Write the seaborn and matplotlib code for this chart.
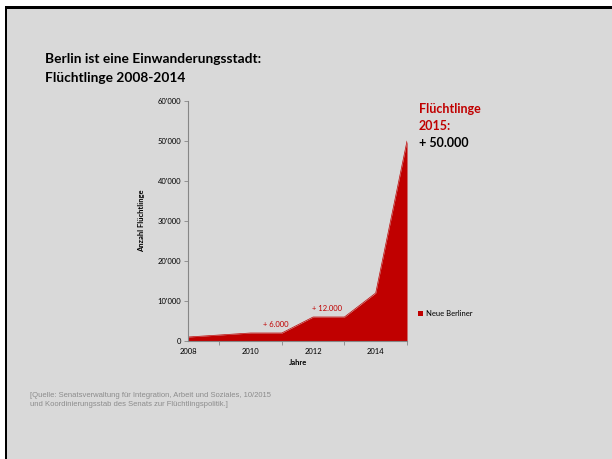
import pandas as pd
import seaborn as sns
import matplotlib.pyplot as plt
from matplotlib.patches import Rectangle
from matplotlib.ticker import FuncFormatter, MultipleLocator

years = [2008, 2009, 2010, 2011, 2012, 2013, 2014, 2015]
refugees = [1000, 1500, 2000, 2000, 6000, 6000, 12000, 50000]
series_name = "Neue Berliner"
notes = [(2010.8, 4200, "+ 6.000"), (2012.45, 8100, "+ 12.000")]

RED = "#c00000"
BG = "#d9d9d9"
FONT = ["Lato", "DejaVu Sans"]

sns.set_theme(style="white")
plt.rcParams['font.family'] = FONT
plt.rcParams['text.color'] = "black"
plt.rcParams['axes.labelcolor'] = "black"

df = pd.DataFrame({"Jahr": years, "Anzahl": refugees})

fig = plt.figure(figsize=(6.12, 4.59), dpi=100, facecolor=BG)
# slide frame: white margin + black edge on top/left
fig.patches.append(Rectangle((0, 1 - 6 / 459), 1, 6 / 459, transform=fig.transFigure,
                             facecolor="white", edgecolor="none", zorder=0))
fig.patches.append(Rectangle((0, 0), 5 / 612, 1, transform=fig.transFigure,
                             facecolor="white", edgecolor="none", zorder=0))
fig.patches.append(Rectangle((5 / 612, 1 - 9 / 459), 1, 3 / 459, transform=fig.transFigure,
                             facecolor="black", edgecolor="none", zorder=1))
fig.patches.append(Rectangle((5 / 612, 0), 2 / 612, 1 - 6 / 459, transform=fig.transFigure,
                             facecolor="black", edgecolor="none", zorder=1))

ax = fig.add_axes([188 / 612, 1 - 341 / 459, 219 / 612, 240 / 459])
ax.set_facecolor(BG)
sns.lineplot(data=df, x="Jahr", y="Anzahl", color=RED, linewidth=0.5, ax=ax, legend=False)
ax.fill_between(df["Jahr"], df["Anzahl"], color=RED, linewidth=0, label=series_name)

ax.set_xlim(2008, 2015)
ax.set_ylim(0, 60000)
ax.xaxis.set_major_locator(MultipleLocator(2))
ax.xaxis.set_minor_locator(MultipleLocator(1))
ax.yaxis.set_major_locator(MultipleLocator(10000))
ax.yaxis.set_major_formatter(FuncFormatter(lambda v, p: f"{int(v):,}".replace(",", "'")))

for s in ["top", "right"]:
    ax.spines[s].set_visible(False)
for s in ["left", "bottom"]:
    ax.spines[s].set_color("#868686")
    ax.spines[s].set_linewidth(0.8)
ax.tick_params(axis="both", which="both", direction="out", color="#868686",
               labelsize=5.5, labelcolor="black", width=0.6, pad=2)
ax.tick_params(axis="both", which="major", length=3)
ax.tick_params(axis="x", which="minor", length=3, bottom=True)
ax.tick_params(axis="y", left=True)

ax.set_xlabel("Jahre", fontsize=5.5, fontweight="bold", labelpad=3)
ax.set_ylabel("Anzahl Flüchtlinge", fontsize=5.5, fontweight="bold", labelpad=9)

for x, y, t in notes:
    ax.text(x, y, t, color=RED, fontsize=5.5, ha="center", va="center")

leg = ax.legend(loc="center left", bbox_to_anchor=(1.02, 0.115), frameon=False,
                fontsize=5.5, handlelength=0.6, handleheight=0.6, handletextpad=0.4)

fig.text(45 / 612, 1 - 59 / 459, "Berlin ist eine Einwanderungsstadt:", fontsize=9.9,
         fontweight="bold", ha="left", va="center")
fig.text(45 / 612, 1 - 78 / 459, "Flüchtlinge 2008-2014", fontsize=9.9,
         fontweight="bold", ha="left", va="center")

fig.text(419 / 612, 1 - 109 / 459, "Flüchtlinge", fontsize=9, fontweight="bold",
         color=RED, ha="left", va="center")
fig.text(419 / 612, 1 - 126 / 459, "2015:", fontsize=9, fontweight="bold",
         color=RED, ha="left", va="center")
fig.text(419 / 612, 1 - 143 / 459, "+ 50.000", fontsize=9, fontweight="bold",
         color="black", ha="left", va="center")

fig.text(30 / 612, 1 - 400 / 459,
         "[Quelle: Senatsverwaltung für Integration, Arbeit und Soziales, 10/2015\n"
         "und Koordinierungsstab des Senats zur Flüchtlingspolitik.]",
         fontsize=5.5, color="#8c8c8c", family=["Liberation Sans", "DejaVu Sans"],
         ha="left", va="center", linespacing=1.25)

fig.savefig("out.png", dpi=100, facecolor=BG)
